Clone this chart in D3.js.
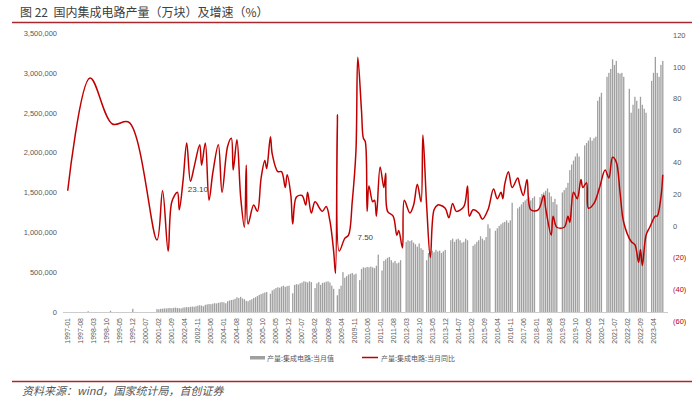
<!DOCTYPE html>
<html><head><meta charset="utf-8">
<script src="https://cdn.jsdelivr.net/npm/d3@7/dist/d3.min.js"></script>
<style>
html,body{margin:0;padding:0;background:#fff;}
svg{display:block;}
</style></head>
<body>
<svg id="chart" width="700" height="414"></svg>
<script>
const _ = null;
const title = "图 22  国内集成电路产量（万块）及增速（%）";
const source = "资料来源：wind，国家统计局，首创证券";
const seriesNames = ["产量:集成电路:当月值", "产量:集成电路:当月同比"];

// monthly categories 1997-01 .. 2023-09
const categories = d3.timeMonths(new Date(1997,0,1), new Date(2023,9,1)).map(d3.timeFormat("%Y-%m"));

// 产量:集成电路:当月值 (万块)
const barValues = [].concat(
  [_,_,_,_,_,_,_,_,_,_,_,10000],
  [_,_,_,_,_,_,_,_,_,_,_,15000],
  [_,_,_,_,_,_,_,_,_,_,_,40000],
  [_,_,_,_,_,_,_,_,_,_,_,_],
  [36000,34000,40000,42000,45000,44000,48000,50000,47000,52000,55000,50000],
  [48000,45000,55000,58000,62000,60000,65000,68000,66000,72000,80000,85000],
  [80000,72000,90000,95000,100000,98000,105000,110000,108000,115000,120000,125000],
  [120000,110000,135000,145000,150000,155000,165000,185000,175000,190000,170000,160000],
  [140000,135000,150000,160000,175000,185000,200000,215000,225000,235000,245000,250000],
  [_,230000,270000,285000,300000,310000,305000,320000,330000,315000,325000,330000],
  [_,235000,340000,350000,345000,360000,370000,385000,380000,370000,385000,375000],
  [_,300000,360000,375000,340000,365000,370000,380000,385000,370000,330000,290000],
  [_,210000,290000,330000,500000,430000,450000,470000,480000,490000,470000,480000],
  [_,400000,540000,560000,555000,565000,560000,570000,560000,550000,580000,720000],
  [_,520000,640000,660000,680000,690000,650000,620000,640000,610000,620000,650000],
  [_,_,880000,900000,890000,900000,870000,850000,820000,860000,800000,780000],
  [_,650000,740000,760000,770000,750000,780000,760000,770000,740000,760000,780000],
  [_,_,900000,920000,880000,910000,920000,900000,870000,880000,920000,900000],
  [_,_,830000,850000,880000,900000,950000,920000,900000,940000,1100000,1050000],
  [_,_,1020000,1050000,1080000,1100000,1120000,1130000,1150000,1120000,1150000,1370000],
  [_,_,1300000,1320000,1350000,1380000,1400000,1420000,1440000,1400000,1430000,1450000],
  [_,_,1440000,1480000,1500000,1520000,1550000,1500000,1450000,1380000,1420000,1350000],
  [_,_,1500000,1530000,1560000,1620000,1780000,1850000,1900000,1950000,1990000,1950000],
  [_,_,2090000,2120000,2150000,2190000,2150000,2180000,2200000,2650000,2700000,2750000],
  [_,_,2950000,3000000,3050000,3170000,3100000,3150000,3000000,2990000,3000000,2950000],
  [_,_,2800000,2500000,2600000,2700000,2650000,2550000,2700000,2600000,2550000,2500000],
  [_,_,2900000,3000000,3200000,3000000,2950000,3100000,3150000]
);

// 产量:集成电路:当月同比 (%)
const lineValues = [].concat(
  [22,_,_,_,_,_,_,_,_,_,_,_],
  [93,_,_,_,_,_,_,_,_,_,_,_],
  [64,_,_,_,_,_,_,_,_,65,_,_],
  [_,_,_,_,_,_,_,_,_,_,_,_],
  [-9,_,_,22,_,_,-16,_,15,_,_,21],
  [10,_,28,_,52,_,28,_,37,_,_,51],
  [38,_,52,_,16,_,33,_,_,51,_,21],
  [_,_,50,_,55,35,_,54,_,18,_,-1],
  [38,1,_,_,13,_,9,_,30,_,41,36],
  [_,56,45,_,_,34,_,34,_,24,32,_],
  [19,1,_,18,_,_,19,_,13,21,_,8],
  [_,15,_,_,10,9,_,12,_,3,_,-16],
  [-30,70,-16,_,_,-8,_,-6,_,15,_,47],
  [106,_,72,55,53,9,25,_,15,16,6,_],
  [37,_,24,33,9,_,_,6,_,-6,-3,_],
  [-14,16,_,_,8,_,13,_,26,_,15,57],
  [_,13,_,-20,_,10,_,13,13,_,_,11],
  [_,5,_,14,_,9,_,_,_,12,_,25],
  [6,_,10,_,_,8,_,4,_,_,10,_],
  [_,23,_,17,_,21,17,26,_,34,_,24],
  [_,_,30,26,_,19,_,29,_,10,_,_],
  [_,10,_,_,19,11,_,_,-6,6,_,-1],
  [_,_,_,-1,_,6,2,_,21,_,17,_],
  [29,24,_,27,11,_,_,14,_,_,24,_],
  [_,35,_,30,_,43,_,40,_,21,_,2],
  [_,_,_,-10,_,-12,_,-23,-15,-25,_,-6],
  [_,-1,_,_,6,6,_,18,32]
);

const leftTicks = [0,500000,1000000,1500000,2000000,2500000,3000000,3500000];
const rightTicks = [-60,-40,-20,0,20,40,60,80,100,120];
const labelStep = 7;
const annotations = [{text:"23.10", month:"2002-11", value:23.1},{text:"7.50", month:"2010-05", value:-7.5}];

const svg = d3.select("#chart");
const grayText = "#595959", red = "#c00000", frameRed = "#a8282c";
const font = "'Liberation Sans', Arial, sans-serif";
const cjk = "'Noto Sans CJK SC', sans-serif";

// title and rules
svg.append("text").attr("x",20).attr("y",17).attr("font-family",cjk).attr("font-size",12)
  .attr("fill","#404040").attr("xml:space","preserve").style("white-space","pre").text(title);
svg.append("line").attr("x1",12).attr("x2",692).attr("y1",22.5).attr("y2",22.5)
  .attr("stroke",frameRed).attr("stroke-width",1.5);
svg.append("line").attr("x1",12).attr("x2",692).attr("y1",381.5).attr("y2",381.5)
  .attr("stroke",frameRed).attr("stroke-width",1.5);
svg.append("text").attr("x",22).attr("y",395).attr("font-family",cjk).attr("font-style","italic")
  .attr("font-size",11).attr("fill","#555").text(source);

const x = d3.scaleBand().domain(categories).range([66.5,664]).padding(0.3);
const yL = d3.scaleLinear().domain([0,3500000]).range([312,33]);
const yR = d3.scaleLinear().domain([-60,120]).range([321,35]);

// bars
svg.append("g").selectAll("rect")
  .data(categories.map((c,i)=>({c, v:barValues[i]})).filter(d=>d.v!=null))
  .join("rect")
  .attr("x",d=>x(d.c)).attr("width",x.bandwidth())
  .attr("y",d=>yL(d.v)).attr("height",d=>yL(0)-yL(d.v))
  .attr("fill","#9f9f9f");

// baseline
svg.append("line").attr("x1",63).attr("x2",668).attr("y1",312.5).attr("y2",312.5)
  .attr("stroke","#bfbfbf").attr("stroke-width",0.8);

// left axis
const gL = svg.append("g").attr("transform","translate(60,0)")
  .call(d3.axisLeft(yL).tickValues(leftTicks).tickFormat(d3.format(",")).tickSize(0).tickPadding(3));
gL.select(".domain").remove();
gL.selectAll("text").attr("font-family",font).attr("font-size",7.5).attr("fill",grayText);

// right axis
const gR = svg.append("g").attr("transform","translate(670,0)")
  .call(d3.axisRight(yR).tickValues(rightTicks).tickFormat(d=>d<0?`(${-d})`:d).tickSize(0).tickPadding(3));
gR.select(".domain").remove();
gR.selectAll("text").attr("font-family",font).attr("font-size",7.5).attr("fill",d=>d<0?red:grayText);

// x axis labels
const gX = svg.append("g").attr("transform","translate(0,312)")
  .call(d3.axisBottom(x).tickValues(categories.filter((c,i)=>i%labelStep===0)).tickSize(0).tickPadding(0));
gX.select(".domain").remove();
gX.selectAll("text").attr("font-family",font).attr("font-size",7).attr("fill",grayText)
  .attr("transform","rotate(-90)").attr("text-anchor","end").attr("dy","0.35em").attr("x",-6).attr("y",0);

// line
const pts = categories.map((c,i)=>({c, v:lineValues[i]})).filter(d=>d.v!=null);
svg.append("path").datum(pts)
  .attr("d", d3.line().x(d=>x(d.c)+x.bandwidth()/2).y(d=>yR(d.v)).curve(d3.curveCatmullRom.alpha(0.5)))
  .attr("fill","none").attr("stroke",red).attr("stroke-width",1.5).attr("stroke-linejoin","round");

// annotations
svg.append("g").selectAll("text").data(annotations).join("text")
  .attr("x",d=>x(d.month)+x.bandwidth()/2).attr("y",d=>yR(d.value)).attr("dy","0.35em")
  .attr("text-anchor","middle").attr("font-family",font).attr("font-size",8).attr("fill","#404040")
  .text(d=>d.text);

// legend
const lg = svg.append("g");
lg.append("rect").attr("x",250).attr("y",356).attr("width",15).attr("height",3.5).attr("fill","#9f9f9f");
lg.append("text").attr("x",267).attr("y",360.5).attr("font-family",cjk).attr("font-size",7).attr("fill",grayText).text(seriesNames[0]);
lg.append("line").attr("x1",362).attr("x2",378).attr("y1",357.5).attr("y2",357.5).attr("stroke",red).attr("stroke-width",1.5);
lg.append("text").attr("x",381).attr("y",360.5).attr("font-family",cjk).attr("font-size",7).attr("fill",grayText).text(seriesNames[1]);
</script>
</body></html>
